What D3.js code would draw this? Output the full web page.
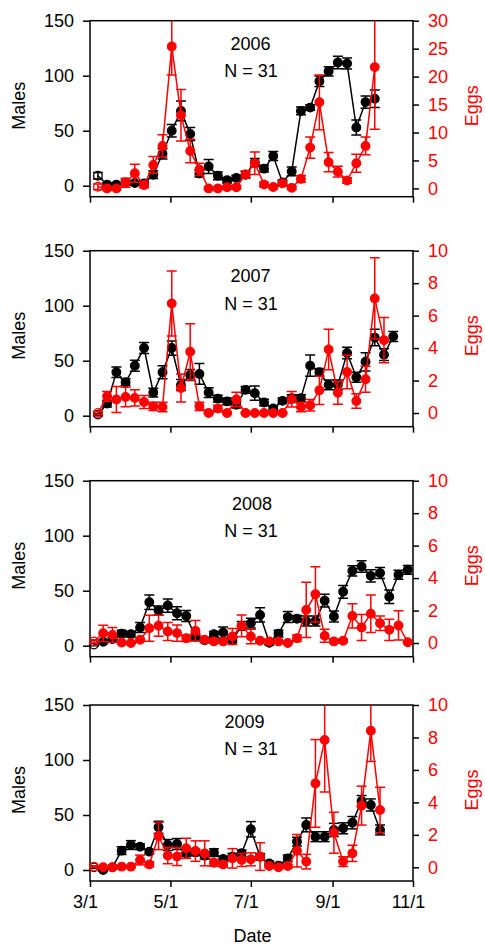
<!DOCTYPE html>
<html>
<head>
<meta charset="utf-8">
<script src="https://cdn.jsdelivr.net/npm/d3@7"></script>
<style>
  body { margin: 0; background: #fff; }
  svg text { font-family: "Liberation Sans", Arial, sans-serif; }
</style>
</head>
<body>
<svg id="chart"></svg>
<script>
// tick labels and panel info
const years = [2006, 2007, 2008, 2009]
const sampleLabel = 'N = 31'
const xTickLabels = ['3/1', '5/1', '7/1', '9/1', '11/1']
const maleTicks = [0, 50, 100, 150]
const eggTicks2006 = [0, 5, 10, 15, 20, 25, 30]
const eggTicksOther = [0, 2, 4, 6, 8, 10]

// sampling dates (weekly)
const dates2006 = ['3/7','3/14','3/21','3/28','4/4','4/11','4/18','4/25','5/2','5/9','5/16','5/23','5/30','6/6','6/13','6/20','6/27','7/4','7/11','7/18','7/25','8/1','8/8','8/15','8/22','8/29','9/5','9/12','9/19','9/26','10/3']
const dates2007 = ['3/7','3/14','3/21','3/28','4/4','4/11','4/18','4/25','5/2','5/9','5/16','5/23','5/30','6/6','6/13','6/20','6/27','7/4','7/11','7/18','7/25','8/1','8/8','8/15','8/22','8/29','9/5','9/12','9/19','9/26','10/3','10/10','10/17']
const dates2008 = ['3/4','3/11','3/18','3/25','4/1','4/8','4/15','4/22','4/29','5/6','5/13','5/20','5/27','6/3','6/10','6/17','6/24','7/1','7/8','7/15','7/22','7/29','8/5','8/12','8/19','8/26','9/2','9/9','9/16','9/23','9/30','10/7','10/14','10/21','10/28']
const dates2009 = ['3/4','3/11','3/18','3/25','4/1','4/8','4/15','4/22','4/29','5/6','5/13','5/20','5/27','6/3','6/10','6/17','6/24','7/1','7/8','7/15','7/22','7/29','8/5','8/12','8/19','8/26','9/2','9/9','9/16','9/23','9/30','10/7']

// males (mean, se)
const males2006 = [9, 1, 1, 3, 2.5, 2, 10, 29, 50, 68, 47, 11, 17.5, 9, 5, 7, 10, 21, 15.5, 27, 3, 13, 68, 71, 95, 104, 112, 111, 53, 76, 79]
const malesSe2006 = [3, 1.5, 1.5, 2, 2, 2, 3.5, 4.7, 5.7, 9, 6, 3, 6.4, 3.5, 2.5, 2.5, 3, 3.8, 3, 4, 2, 4, 3.5, 2.5, 4.8, 4.2, 5.6, 5, 6.8, 5.6, 8]
const males2007 = [1, 11, 39.5, 30.5, 45.5, 61.5, 21, 39.5, 61.5, 28, 37, 38, 21, 15.5, 13, 10, 23.5, 20.5, 12, 6.5, 13.5, 16, 16, 45.5, 39.5, 28, 28, 57, 35, 49, 71, 55.5, 72]
const malesSe2007 = [1, 3, 4.8, 3, 5, 5, 4, 6, 6.5, 5, 5, 9.5, 4.5, 3, 3, 3, 3, 6.5, 3, 2, 2.5, 3, 3, 9.7, 3.3, 4.5, 4.5, 5.3, 4.5, 8.3, 7.5, 5.3, 4.5]
const males2008 = [1, 3.5, 6, 11, 10.5, 16.5, 39.5, 32, 36.5, 29.5, 27, 8, 5, 10.5, 12, 5, 18, 20.5, 28, 2.7, 11, 26, 24.5, 22.5, 22.5, 41, 26.5, 49, 68, 72, 63.5, 66, 44.5, 64.5, 69]
const malesSe2008 = [1, 1.5, 1.5, 3, 2.5, 4.5, 6.5, 4, 6, 6, 5, 3, 2, 2.5, 5, 2, 4, 4.5, 6.5, 2, 3, 5, 3, 4.5, 4.5, 5.8, 5, 5.8, 4.6, 5.3, 5.5, 5, 6.2, 4.2, 4]
const males2009 = [2.4, 0, 2.4, 17.6, 22.7, 21.2, 16.7, 38.8, 22.7, 23.6, 15.2, 16, 13, 15.8, 10, 12.1, 15.2, 37, 12, 6, 4, 10.6, 25.8, 41, 30.3, 30.3, 36.4, 37.9, 43, 62.7, 59.1, 36.4]
const malesSe2009 = [1, 1, 1, 3.5, 4, 2.5, 2, 5.5, 5, 5, 3, 3, 3, 3.5, 2.5, 3, 3, 7, 3, 2, 2, 3, 4, 6.3, 4.5, 4.5, 6, 5, 5.6, 5, 5.5, 4.5]

// eggs (mean, se)
const eggs2006 = [0.3, 0, 0, 1, 2.7, 0.6, 4.2, 7.6, 25.4, 13.1, 6.7, 3.4, 0, 0, 0.2, 0.2, 2.5, 4.5, 0.7, 0.25, 0.9, 0.1, 1.7, 7.3, 15.4, 4.7, 3.0, 1.4, 4.5, 7.6, 21.7]
const eggsSe2006 = [0.5, 0.3, 0.3, 0.8, 1.6, 0.5, 1.5, 2, 5.1, 4.6, 2.1, 1.1, 0.2, 0.2, 0.3, 0.3, 0.6, 2, 0.4, 0.3, 0.5, 0.3, 0.6, 1.9, 4.9, 1.7, 0.95, 0.5, 1.6, 1.6, 11.1]
const eggs2007 = [0, 1.03, 0.83, 0.99, 0.93, 0.68, 0.41, 0.37, 6.75, 1.54, 3.77, 0.41, 0, 0.27, 0, 0.83, 0, 0, 0, 0, 0, 0.85, 0.37, 0.48, 1.4, 3.91, 1.24, 2.53, 0.74, 2.08, 7.06, 4.49]
const eggsSe2007 = [0.1, 0.3, 0.8, 0.6, 0.5, 0.4, 0.25, 0.3, 2, 0.86, 1.73, 0.25, 0.05, 0.2, 0.05, 0.45, 0.05, 0.05, 0.05, 0.05, 0.05, 0.48, 0.3, 0.35, 0.87, 1.25, 0.7, 1.03, 0.45, 0.8, 2.5, 1.39]
const eggs2008 = [0.1, 0.6, 0.5, 0.03, 0, 0.2, 0.91, 1.06, 0.71, 0.61, 0.3, 0.75, 0.2, 0.1, 0.1, 0.4, 1.06, 0.4, 0.14, 0.1, 0.1, 0, 0.3, 2.04, 3.0, 0.44, 0.1, 0.14, 1.67, 0.96, 1.8, 1.22, 0.81, 1.08, 0.05]
const eggsSe2008 = [0.1, 0.5, 0.45, 0.05, 0.05, 0.1, 0.8, 0.65, 0.55, 0.5, 0.2, 0.63, 0.1, 0.1, 0.1, 0.5, 0.67, 0.45, 0.1, 0.05, 0.05, 0.05, 0.2, 1.7, 1.7, 0.4, 0.1, 0.1, 0.75, 0.8, 1.15, 0.45, 0.65, 0.9, 0.05]
const eggs2009 = [0.04, 0, 0, 0.04, 0.04, 0.45, 0.18, 1.93, 0.72, 0.66, 1.17, 1.0, 0.86, 0.28, 0.18, 0.55, 0.45, 0.49, 0.66, 0.08, 0, 0.08, 1.02, 0.35, 5.17, 7.84, 2.13, 0.35, 0.86, 3.8, 8.42, 3.53]
const eggsSe2009 = [0.05, 0.05, 0.05, 0.05, 0.05, 0.3, 0.15, 0.84, 0.5, 0.55, 0.62, 0.63, 0.77, 0.2, 0.15, 0.6, 0.4, 0.4, 0.85, 0.1, 0.05, 0.1, 1.0, 0.45, 2.7, 3.2, 1.26, 0.3, 0.5, 1.2, 1.9, 1.4]

const panels = [
  { dates: dates2006, males: males2006, malesSe: malesSe2006, eggs: eggs2006, eggsSe: eggsSe2006, eggTicks: eggTicks2006 },
  { dates: dates2007, males: males2007, malesSe: malesSe2007, eggs: eggs2007, eggsSe: eggsSe2007, eggTicks: eggTicksOther },
  { dates: dates2008, males: males2008, malesSe: malesSe2008, eggs: eggs2008, eggsSe: eggsSe2008, eggTicks: eggTicksOther },
  { dates: dates2009, males: males2009, malesSe: malesSe2009, eggs: eggs2009, eggsSe: eggsSe2009, eggTicks: eggTicksOther }
]

// layout
const W = 485, H = 946
const left = 90, right = 413
const panelTops = [20.7, 250.7, 480.7, 705]
const frameH = 176
const maleZero = 165
const eggZeros = [167.7, 162.3, 162.3, 162.3]
const yearY = [29.5, 31, 29.5, 23]
const nY = [56.5, 59, 56.5, 50]
const yearX = [250.5, 250.5, 252, 244.5]
const RED = '#ff0000'
const FS = 18

const svg = d3.select('#chart').attr('width', W).attr('height', H)

function parseDay(s, year) {
  const [m, d] = s.split('/').map(Number)
  return new Date(year, m - 1, d)
}

function drawSeries(g, pts, x, y, color) {
  const line = d3.line().x((d) => x(d.date)).y((d) => y(d.v))
  g.append('path')
    .datum(pts)
    .attr('d', line)
    .attr('fill', 'none')
    .attr('stroke', color)
    .attr('stroke-width', 1.5)

  const bars = g.selectAll(null).data(pts).join('g')
    .attr('stroke', color)
    .attr('stroke-width', 1.5)
  bars.append('line')
    .attr('x1', (d) => x(d.date)).attr('x2', (d) => x(d.date))
    .attr('y1', (d) => y(d.v - d.se)).attr('y2', (d) => y(d.v + d.se))
  bars.append('line')
    .attr('x1', (d) => x(d.date) - 5).attr('x2', (d) => x(d.date) + 5)
    .attr('y1', (d) => y(d.v + d.se)).attr('y2', (d) => y(d.v + d.se))
  bars.append('line')
    .attr('x1', (d) => x(d.date) - 5).attr('x2', (d) => x(d.date) + 5)
    .attr('y1', (d) => y(d.v - d.se)).attr('y2', (d) => y(d.v - d.se))

  g.selectAll(null).data(pts).join('circle')
    .attr('cx', (d) => x(d.date))
    .attr('cy', (d) => y(d.v))
    .attr('r', 4.3)
    .attr('fill', (d, i) => i === 0 ? 'none' : color)
    .attr('stroke', color)
    .attr('stroke-width', 1.3)
}

function drawPanel(p, k) {
  const year = years[k]
  const top = panelTops[k]
  const bottom = top + frameH
  const g = svg.append('g')

  const x = d3.scaleTime()
    .domain([new Date(year, 2, 1), new Date(year, 10, 1)])
    .range([left, right])
  const yM = d3.scaleLinear().domain([0, 150]).range([top + maleZero, top])
  const eggMax = d3.max(p.eggTicks)
  const yE = d3.scaleLinear().domain([0, eggMax]).range([top + eggZeros[k], top])

  // left axis
  const axL = g.append('g')
    .attr('transform', `translate(${left},0)`)
    .call(d3.axisLeft(yM).tickValues(maleTicks).tickSize(7).tickPadding(9).tickSizeOuter(0))
  axL.select('.domain').remove()
  axL.selectAll('line').attr('stroke', '#000').attr('stroke-width', 1.5)
  axL.selectAll('text').attr('font-size', FS).attr('font-family', null).attr('fill', '#000')

  // right axis
  const axR = g.append('g')
    .attr('transform', `translate(${right},0)`)
    .call(d3.axisRight(yE).tickValues(p.eggTicks).tickSize(6).tickPadding(9).tickSizeOuter(0))
  axR.select('.domain').remove()
  axR.selectAll('line').attr('stroke', '#000').attr('stroke-width', 1.5)
  axR.selectAll('text').attr('font-size', FS).attr('font-family', null).attr('fill', RED)

  // bottom axis
  const tickDates = xTickLabels.map((s) => parseDay(s, year))
  const axB = g.append('g')
    .attr('transform', `translate(0,${bottom})`)
    .call(d3.axisBottom(x).tickValues(tickDates).tickSize(6).tickPadding(8.5)
      .tickFormat((d, i) => k === panels.length - 1 ? xTickLabels[i] : ''))
  axB.select('.domain').remove()
  axB.selectAll('line').attr('stroke', '#000').attr('stroke-width', 1.5)
  axB.selectAll('text').attr('font-size', FS).attr('font-family', null).attr('fill', '#000').attr('dx', -5)

  // frame
  g.append('rect')
    .attr('x', left).attr('y', top)
    .attr('width', right - left).attr('height', frameH)
    .attr('fill', 'none').attr('stroke', '#000').attr('stroke-width', 1.5)

  // axis titles
  g.append('text')
    .attr('transform', `translate(25,${top + 85}) rotate(-90)`)
    .attr('text-anchor', 'middle').attr('font-size', FS)
    .text('Males')
  g.append('text')
    .attr('transform', `translate(478,${top + 85}) rotate(-90)`)
    .attr('text-anchor', 'middle').attr('font-size', FS).attr('fill', RED)
    .text('Eggs')

  g.append('text')
    .attr('x', yearX[k]).attr('y', top + yearY[k])
    .attr('text-anchor', 'middle').attr('font-size', FS)
    .text(year)
  g.append('text')
    .attr('x', 251).attr('y', top + nY[k])
    .attr('text-anchor', 'middle').attr('font-size', FS)
    .text(sampleLabel)

  // data, clipped to the frame
  const clipId = 'clip' + k
  g.append('clipPath').attr('id', clipId)
    .append('rect')
    .attr('x', left - 10).attr('y', top)
    .attr('width', right - left + 20).attr('height', frameH)
  const data = g.append('g').attr('clip-path', `url(#${clipId})`)

  const malePts = p.dates.map((s, i) => ({ date: parseDay(s, year), v: p.males[i], se: p.malesSe[i] }))
  const eggPts = p.dates.slice(0, p.eggs.length).map((s, i) => ({ date: parseDay(s, year), v: p.eggs[i], se: p.eggsSe[i] }))

  drawSeries(data.append('g'), malePts, x, yM, '#000')
  drawSeries(data.append('g'), eggPts, x, yE, RED)
}

panels.forEach(drawPanel)

svg.append('text')
  .attr('x', 252.5).attr('y', 942)
  .attr('text-anchor', 'middle').attr('font-size', FS)
  .text('Date')
</script>
</body>
</html>
